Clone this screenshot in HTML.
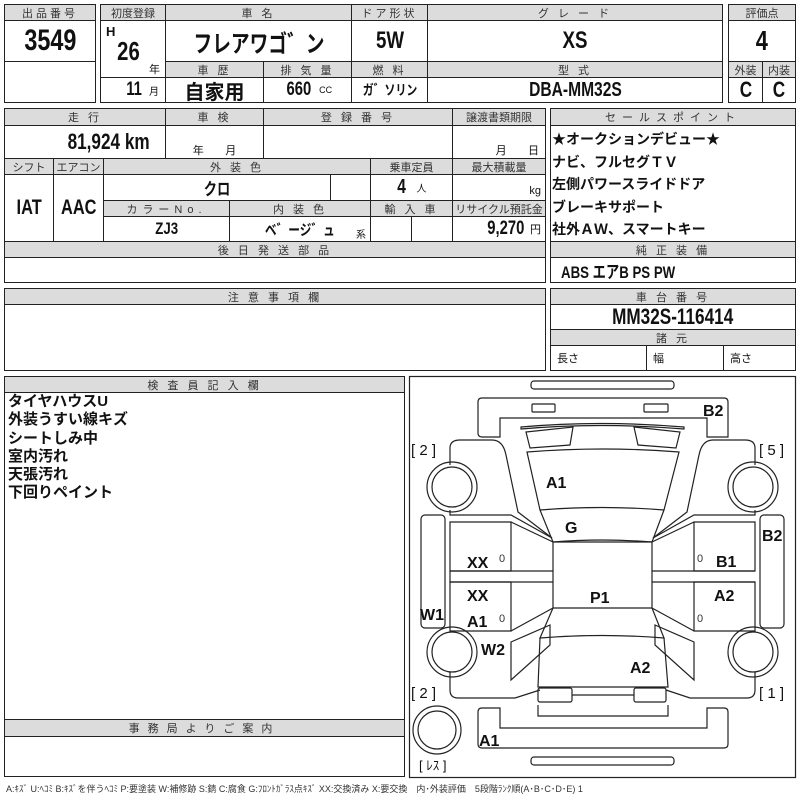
<!DOCTYPE html>
<html><head><meta charset="utf-8"><style>
body{margin:0;width:800px;height:800px;background:#fff;position:relative;overflow:hidden;font-family:"Liberation Sans","Noto Sans CJK JP",sans-serif;color:#111}
.c{position:absolute;border:1px solid #222;box-sizing:border-box;display:flex;align-items:center;justify-content:center;overflow:hidden;white-space:nowrap}
.h{background:#dcdcdc;font-size:11px;letter-spacing:3px;color:#333}
.v{font-weight:bold;font-family:"Liberation Sans","Noto Sans CJK JP",sans-serif}
.n{display:inline-block;transform:scaleX(.78)}
.t{position:absolute;white-space:nowrap}
</style></head><body>
<!-- block1 -->
<div class="c h" style="left:4px;top:4px;width:92px;height:17px">出品番号</div>
<div class="c v" style="left:4px;top:20px;width:92px;height:42px;font-size:30px"><span class="n">3549</span></div>
<div class="c" style="left:4px;top:61px;width:92px;height:42px"></div>
<!-- block2 -->
<div class="c h" style="left:100px;top:4px;width:66px;height:17px;letter-spacing:0">初度登録</div>
<div class="c h" style="left:165px;top:4px;width:187px;height:17px">車 名</div>
<div class="c h" style="left:351px;top:4px;width:77px;height:17px">ドア形状</div>
<div class="c h" style="left:427px;top:4px;width:296px;height:17px">グ レ ー ド</div>
<div class="c" style="left:100px;top:20px;width:66px;height:58px"></div>
<div class="t v" style="left:106px;top:24px;font-size:13px">H</div>
<div class="t v" style="left:114px;top:36px;font-size:26px"><span class="n">26</span></div>
<div class="t" style="left:149px;top:61px;font-size:11px">年</div>
<div class="c v" style="left:165px;top:20px;width:187px;height:42px;font-size:24px"><span class="n">フレアワゴ゛ン</span></div>
<div class="c v" style="left:351px;top:20px;width:77px;height:42px;font-size:24px"><span class="n">5W</span></div>
<div class="c v" style="left:427px;top:20px;width:296px;height:42px;font-size:24px"><span class="n">XS</span></div>
<div class="c h" style="left:165px;top:61px;width:99px;height:17px">車 歴</div>
<div class="c h" style="left:263px;top:61px;width:89px;height:17px">排 気 量</div>
<div class="c h" style="left:351px;top:61px;width:77px;height:17px">燃 料</div>
<div class="c h" style="left:427px;top:61px;width:296px;height:17px">型 式</div>
<div class="c" style="left:100px;top:77px;width:66px;height:26px;justify-content:flex-end;padding-right:6px"><b style="font-size:19px" class="n">11</b>&nbsp;<span style="font-size:10px">月</span></div>
<div class="c v" style="left:165px;top:77px;width:99px;height:26px;font-size:20px">自家用</div>
<div class="c" style="left:263px;top:77px;width:89px;height:26px"><b style="font-size:19px" class="n">660</b>&nbsp;<span style="font-size:9px">CC</span></div>
<div class="c v" style="left:351px;top:77px;width:77px;height:26px;font-size:14px"><span class="n">ガ゛ソリン</span></div>
<div class="c v" style="left:427px;top:77px;width:296px;height:26px;font-size:20px"><span class="n">DBA-MM32S</span></div>
<!-- block3 -->
<div class="c h" style="left:728px;top:4px;width:68px;height:17px;letter-spacing:0">評価点</div>
<div class="c v" style="left:728px;top:20px;width:68px;height:42px;font-size:28px"><span class="n">4</span></div>
<div class="c h" style="left:728px;top:61px;width:35px;height:17px;letter-spacing:0">外装</div>
<div class="c h" style="left:762px;top:61px;width:34px;height:17px;letter-spacing:0">内装</div>
<div class="c v" style="left:728px;top:77px;width:35px;height:26px;font-size:22px"><span class="n">C</span></div>
<div class="c v" style="left:762px;top:77px;width:34px;height:26px;font-size:22px"><span class="n">C</span></div>
<!-- row2 -->
<div class="c h" style="left:4px;top:108px;width:162px;height:18px">走 行</div>
<div class="c h" style="left:165px;top:108px;width:99px;height:18px">車 検</div>
<div class="c h" style="left:263px;top:108px;width:190px;height:18px">登 録 番 号</div>
<div class="c h" style="left:452px;top:108px;width:94px;height:18px;letter-spacing:0">譲渡書類期限</div>
<div class="c" style="left:4px;top:125px;width:162px;height:34px;justify-content:flex-end;padding-right:4px"><b style="font-size:22px" class="n">81,924 km</b></div>
<div class="c" style="left:165px;top:125px;width:99px;height:34px;align-items:flex-end;font-size:11px">年&nbsp;&nbsp;&nbsp;&nbsp;&nbsp;&nbsp;&nbsp;月</div>
<div class="c" style="left:263px;top:125px;width:190px;height:34px"></div>
<div class="c" style="left:452px;top:125px;width:94px;height:34px;align-items:flex-end;font-size:11px;justify-content:flex-end;padding-right:6px">月&nbsp;&nbsp;&nbsp;&nbsp;&nbsp;&nbsp;&nbsp;日</div>
<div class="c h" style="left:4px;top:158px;width:50px;height:17px;letter-spacing:0">シフト</div>
<div class="c h" style="left:53px;top:158px;width:51px;height:17px;letter-spacing:0">エアコン</div>
<div class="c h" style="left:103px;top:158px;width:268px;height:17px">外 装 色</div>
<div class="c h" style="left:370px;top:158px;width:83px;height:17px;letter-spacing:0">乗車定員</div>
<div class="c h" style="left:452px;top:158px;width:94px;height:17px;letter-spacing:0">最大積載量</div>
<div class="c v" style="left:4px;top:174px;width:50px;height:68px;font-size:21px"><span class="n">IAT</span></div>
<div class="c v" style="left:53px;top:174px;width:51px;height:68px;font-size:21px"><span class="n">AAC</span></div>
<div class="c v" style="left:103px;top:174px;width:228px;height:27px;font-size:17px"><span class="n">クロ</span></div>
<div class="c" style="left:330px;top:174px;width:41px;height:27px"></div>
<div class="c" style="left:370px;top:174px;width:83px;height:27px"><b style="font-size:20px" class="n">4</b>&nbsp;&nbsp;<span style="font-size:10px">人</span></div>
<div class="c" style="left:452px;top:174px;width:94px;height:27px;justify-content:flex-end;align-items:flex-end;padding:0 4px 3px 0;font-size:11px">kg</div>
<div class="c h" style="left:103px;top:200px;width:127px;height:17px;letter-spacing:5px">カラーNo.</div>
<div class="c h" style="left:229px;top:200px;width:142px;height:17px">内 装 色</div>
<div class="c h" style="left:370px;top:200px;width:83px;height:17px">輸 入 車</div>
<div class="c h" style="left:452px;top:200px;width:94px;height:17px;letter-spacing:0">リサイクル預託金</div>
<div class="c v" style="left:103px;top:216px;width:127px;height:26px;font-size:17px"><span class="n">ZJ3</span></div>
<div class="c v" style="left:229px;top:216px;width:142px;height:26px;font-size:15px"><span class="n">ベ゛ージ゛ュ</span></div>
<div class="t" style="left:356px;top:226px;font-size:10px">系</div>
<div class="c" style="left:370px;top:216px;width:42px;height:26px"></div>
<div class="c" style="left:411px;top:216px;width:42px;height:26px"></div>
<div class="c" style="left:452px;top:216px;width:94px;height:26px;justify-content:flex-end;padding-right:4px"><b style="font-size:19px" class="n">9,270</b><span style="font-size:11px">円</span></div>
<div class="c h" style="left:4px;top:241px;width:542px;height:17px">後 日 発 送 部 品</div>
<div class="c" style="left:4px;top:257px;width:542px;height:26px"></div>
<!-- sales -->
<div class="c h" style="left:550px;top:108px;width:246px;height:18px;letter-spacing:6px">セールスポイント</div>
<div class="c" style="left:550px;top:125px;width:246px;height:117px"></div>
<div class="t" style="left:552px;top:128px;font-size:14px;line-height:22.5px;font-weight:bold">★オークションデビュー★<br>ナビ、フルセグＴＶ<br>左側パワースライドドア<br>ブレーキサポート<br>社外ＡＷ、スマートキー</div>
<div class="c h" style="left:550px;top:241px;width:246px;height:17px">純 正 装 備</div>
<div class="c v" style="left:550px;top:257px;width:246px;height:26px;justify-content:flex-start;padding-left:10px;font-size:17px"><span class="n" style="transform-origin:left">ABS エアB PS PW</span></div>
<!-- notes -->
<div class="c h" style="left:4px;top:288px;width:542px;height:17px">注 意 事 項 欄</div>
<div class="c" style="left:4px;top:304px;width:542px;height:67px"></div>
<div class="c h" style="left:550px;top:288px;width:246px;height:17px">車 台 番 号</div>
<div class="c v" style="left:550px;top:304px;width:246px;height:26px;font-size:22px"><span class="n">MM32S-116414</span></div>
<div class="c h" style="left:550px;top:329px;width:246px;height:17px">諸 元</div>
<div class="c" style="left:550px;top:345px;width:97px;height:26px;justify-content:flex-start;padding-left:6px;font-size:11px">長さ</div>
<div class="c" style="left:646px;top:345px;width:78px;height:26px;justify-content:flex-start;padding-left:6px;font-size:11px">幅</div>
<div class="c" style="left:723px;top:345px;width:73px;height:26px;justify-content:flex-start;padding-left:6px;font-size:11px">高さ</div>
<!-- inspector -->
<div class="c h" style="left:4px;top:376px;width:401px;height:17px">検 査 員 記 入 欄</div>
<div class="c" style="left:4px;top:392px;width:401px;height:328px"></div>
<div class="t" style="left:8px;top:393px;font-size:15px;line-height:18.3px;font-weight:bold">タイヤハウスU<br>外装うすい線キズ<br>シートしみ中<br>室内汚れ<br>天張汚れ<br>下回りペイント</div>
<div class="c h" style="left:4px;top:719px;width:401px;height:18px;letter-spacing:8px">事務局よりご案内</div>
<div class="c" style="left:4px;top:736px;width:401px;height:41px"></div>
<div class="t" style="left:6px;top:782px;font-size:9px;color:#333">A:ｷｽﾞ U:ﾍｺﾐ B:ｷｽﾞを伴うﾍｺﾐ P:要塗装 W:補修跡 S:錆 C:腐食 G:ﾌﾛﾝﾄｶﾞﾗｽ点ｷｽﾞ XX:交換済み X:要交換　内･外装評価　5段階ﾗﾝｸ順(A･B･C･D･E) 1</div>
<!-- diagram -->
<svg style="position:absolute;left:0;top:0" width="800" height="800" fill="none" stroke="#222" stroke-width="1.2">
<rect x="409.5" y="376.5" width="386" height="401"/>
<rect x="531" y="381" width="143" height="8" rx="3"/>
<path d="M482 398 H724 Q728 398 728 402 V437 H707 V418 H500 V437 H482 Q478 437 478 433 V402 Q478 398 482 398Z"/>
<rect x="532" y="404" width="23" height="8" rx="1"/><rect x="644" y="404" width="24" height="8" rx="1"/>
<path d="M521 427 Q600 420 684 427 L684 429 Q600 422 521 429Z"/>
<path d="M526 432 L573 427 L570 445 L530 448Z"/><path d="M634 427 L680 432 L676 448 L638 445Z"/>
<path d="M527 452 Q603 446 679 452 L664 510 Q602 505 540 510Z"/>
<path d="M540 510 L553 542 Q602 538 652 542 L664 510"/>
<path d="M553 542 H652 V608 H553Z"/>
<path d="M553 608 L540 638 Q602 633 664 638 L652 608"/>
<path d="M540 638 L538 687 H668 L664 638"/>
<rect x="538" y="688" width="34" height="14" rx="2"/><rect x="634" y="688" width="32" height="14" rx="2"/>
<path d="M572 695 H634"/><rect x="538" y="705" width="130" height="0"/>
<path d="M538 705 V716 H668 V705"/>
<path d="M482 748 H724 Q728 748 728 744 V712 Q728 708 724 708 H707 V728 H500 V708 H482 Q478 708 478 712 V744 Q478 748 482 748Z"/>
<rect x="531" y="757" width="143" height="8" rx="3"/>
<!-- left front fender -->
<path d="M450 465 V448 Q450 440 460 440 H492 Q503 440 506 455 L518 512 L552 538"/>
<path d="M450 510 V515 H511 L552 538"/>
<!-- right front fender -->
<path d="M755 465 V448 Q755 440 745 440 H713 Q702 440 699 455 L687 512 L653 538"/>
<path d="M755 510 V515 H694 L653 538"/>
<!-- doors -->
<path d="M450 522 H511 V571 H450Z"/><path d="M511 522 L553 542"/><path d="M450 571 V582 H553 M450 571 H553"/>
<path d="M450 582 H511 V631 H450Z"/><path d="M511 631 L553 608"/>
<path d="M755 522 H694 V571 H755Z"/><path d="M694 522 L652 542"/><path d="M755 571 H652 M755 582 H652"/>
<path d="M755 582 H694 V631 H755Z"/><path d="M694 631 L652 608"/>
<rect x="421" y="515" width="24" height="113" rx="4"/><rect x="760" y="515" width="24" height="113" rx="4"/>
<!-- rear quarters -->
<path d="M511 642 L550 625 V645 L511 680Z"/><path d="M694 642 L655 625 V645 L694 680Z"/>
<path d="M450 672 V690 Q450 698 458 698 H515 L540 690"/><path d="M755 672 V690 Q755 698 747 698 H690 L666 690"/>
<!-- wheels -->
<circle cx="452" cy="487" r="25"/><circle cx="452" cy="487" r="20"/>
<circle cx="753" cy="487" r="25"/><circle cx="753" cy="487" r="20"/>
<circle cx="452" cy="652" r="25"/><circle cx="452" cy="652" r="20"/>
<circle cx="753" cy="652" r="25"/><circle cx="753" cy="652" r="20"/>
<circle cx="437" cy="730" r="24"/><circle cx="437" cy="730" r="19"/>
<g stroke="none" fill="#111" font-family="Liberation Sans, sans-serif" font-weight="bold" font-size="16">
<text x="703" y="416">B2</text><text x="762" y="541">B2</text>
<text x="546" y="488">A1</text><text x="565" y="533">G</text>
<text x="467" y="568">XX</text><text x="716" y="567">B1</text>
<text x="467" y="601">XX</text><text x="590" y="603">P1</text><text x="714" y="601">A2</text>
<text x="420" y="620">W1</text><text x="467" y="627">A1</text><text x="481" y="655">W2</text>
<text x="630" y="673">A2</text><text x="479" y="746">A1</text>
</g>
<g stroke="none" fill="#111" font-family="Liberation Sans, Noto Sans CJK JP, sans-serif" font-size="15">
<text x="411" y="455">[ 2 ]</text><text x="759" y="455">[ 5 ]</text>
<text x="411" y="698">[ 2 ]</text><text x="759" y="698">[ 1 ]</text>
<text x="419" y="770" font-size="13">[ ﾚｽ ]</text>
</g>
<g stroke="none" fill="#333" font-family="Liberation Sans, sans-serif" font-size="11">
<text x="499" y="562">0</text><text x="499" y="622">0</text><text x="697" y="562">0</text><text x="697" y="622">0</text>
</g>
</svg>
</body></html>
